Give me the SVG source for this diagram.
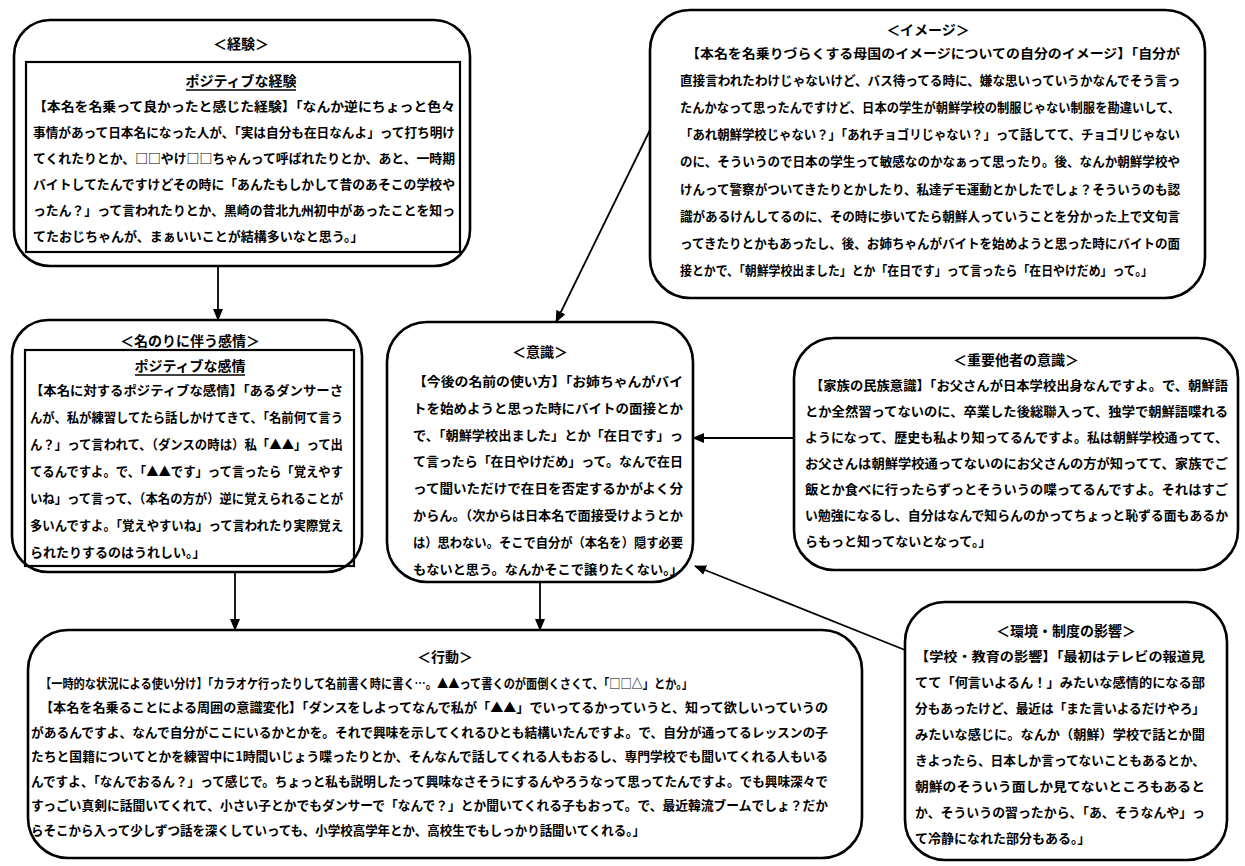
<svg xmlns="http://www.w3.org/2000/svg" width="1245" height="866" viewBox="0 0 1245 866">
<defs>
<marker id="ah" markerWidth="12" markerHeight="10" refX="11" refY="5" orient="auto" markerUnits="userSpaceOnUse"><path d="M0,0 L12,5 L0,10 Z" fill="#000"/></marker>
</defs>
<style>
.box{fill:#fff;stroke:#000;stroke-width:2.6}
.inner{fill:none;stroke:#000;stroke-width:2.2}
text{font-family:"Noto Sans CJK JP","Noto Sans CJK SC",sans-serif;font-weight:700;fill:#000}
.t{font-size:13px}
.h{font-size:14px;text-anchor:middle}
.ul{stroke:#000;stroke-width:1.3}
.conn{stroke:#000;stroke-width:1.8;fill:none}
</style>
<rect width="1245" height="866" fill="#fff"/>

<g id="node-keiken">
<rect class="box" x="14" y="20" width="456" height="246" rx="36"/>
<rect class="inner" x="26" y="62" width="434" height="190"/>
<text class="h" x="241" y="49">＜経験＞</text>
<text class="h" x="241" y="86">ポジティブな経験</text>
<line class="ul" x1="186" y1="90" x2="296" y2="90"/>
<text class="t" x="33" y="111" textLength="422" lengthAdjust="spacingAndGlyphs">【本名を名乗って良かったと感じた経験】「なんか逆にちょっと色々</text>
<text class="t" x="33" y="137" textLength="422" lengthAdjust="spacingAndGlyphs">事情があって日本名になった人が、「実は自分も在日なんよ」って打ち明け</text>
<text class="t" x="33" y="163" textLength="422" lengthAdjust="spacingAndGlyphs">てくれたりとか、□□やけ□□ちゃんって呼ばれたりとか、あと、一時期</text>
<text class="t" x="33" y="189" textLength="422" lengthAdjust="spacingAndGlyphs">バイトしてたんですけどその時に「あんたもしかして昔のあそこの学校や</text>
<text class="t" x="33" y="215" textLength="422" lengthAdjust="spacingAndGlyphs">ったん？」って言われたりとか、黒崎の昔北九州初中があったことを知っ</text>
<text class="t" x="33" y="241">てたおじちゃんが、まぁいいことが結構多いなと思う。」</text>
</g>

<g id="node-image">
<rect class="box" x="650" y="10" width="555" height="288" rx="40"/>
<text class="h" x="928" y="35">＜イメージ＞</text>
<text class="t" x="686" y="58" textLength="494" lengthAdjust="spacingAndGlyphs">【本名を名乗りづらくする母国のイメージについての自分のイメージ】「自分が</text>
<text class="t" x="680" y="85" textLength="500" lengthAdjust="spacingAndGlyphs">直接言われたわけじゃないけど、バス待ってる時に、嫌な思いっていうかなんでそう言っ</text>
<text class="t" x="680" y="112" textLength="500" lengthAdjust="spacingAndGlyphs">たんかなって思ったんですけど、日本の学生が朝鮮学校の制服じゃない制服を勘違いして、</text>
<text class="t" x="680" y="139" textLength="500" lengthAdjust="spacingAndGlyphs">「あれ朝鮮学校じゃない？」「あれチョゴリじゃない？」って話してて、チョゴリじゃない</text>
<text class="t" x="680" y="166" textLength="500" lengthAdjust="spacingAndGlyphs">のに、そういうので日本の学生って敏感なのかなぁって思ったり。後、なんか朝鮮学校や</text>
<text class="t" x="680" y="194" textLength="500" lengthAdjust="spacingAndGlyphs">けんって警察がついてきたりとかしたり、私達デモ運動とかしたでしょ？そういうのも認</text>
<text class="t" x="680" y="221" textLength="500" lengthAdjust="spacingAndGlyphs">識があるけんしてるのに、その時に歩いてたら朝鮮人っていうことを分かった上で文句言</text>
<text class="t" x="680" y="248" textLength="500" lengthAdjust="spacingAndGlyphs">ってきたりとかもあったし、後、お姉ちゃんがバイトを始めようと思った時にバイトの面</text>
<text class="t" x="680" y="275" textLength="473" lengthAdjust="spacingAndGlyphs">接とかで、「朝鮮学校出ました」とか「在日です」って言ったら「在日やけだめ」って。」</text>
</g>

<g id="node-kanjou">
<rect class="box" x="12" y="320" width="350" height="252" rx="36"/>
<rect class="inner" x="25" y="350" width="329" height="216"/>
<text class="h" x="190" y="346">＜名のりに伴う感情＞</text>
<text class="h" x="190" y="371">ポジティブな感情</text>
<line class="ul" x1="135" y1="375" x2="245" y2="375"/>
<text class="t" x="30" y="395" textLength="313" lengthAdjust="spacingAndGlyphs">【本名に対するポジティブな感情】「あるダンサーさ</text>
<text class="t" x="30" y="422" textLength="313" lengthAdjust="spacingAndGlyphs">んが、私が練習してたら話しかけてきて、「名前何て言う</text>
<text class="t" x="30" y="449" textLength="313" lengthAdjust="spacingAndGlyphs">ん？」って言われて、（ダンスの時は）私「▲▲」って出</text>
<text class="t" x="30" y="476" textLength="313" lengthAdjust="spacingAndGlyphs">てるんですよ。で、「▲▲です」って言ったら「覚えやす</text>
<text class="t" x="30" y="503" textLength="313" lengthAdjust="spacingAndGlyphs">いね」って言って、（本名の方が）逆に覚えられることが</text>
<text class="t" x="30" y="530" textLength="313" lengthAdjust="spacingAndGlyphs">多いんですよ。「覚えやすいね」って言われたり実際覚え</text>
<text class="t" x="30" y="557">られたりするのはうれしい。」</text>
</g>

<g id="node-ishiki">
<rect class="box" x="387" y="322" width="306" height="260" rx="40"/>
<text class="h" x="540" y="357">＜意識＞</text>
<text class="t" x="413" y="386" textLength="270" lengthAdjust="spacingAndGlyphs">【今後の名前の使い方】「お姉ちゃんがバイ</text>
<text class="t" x="413" y="413" textLength="270" lengthAdjust="spacingAndGlyphs">トを始めようと思った時にバイトの面接とか</text>
<text class="t" x="413" y="440" textLength="270" lengthAdjust="spacingAndGlyphs">で、「朝鮮学校出ました」とか「在日です」っ</text>
<text class="t" x="413" y="466" textLength="270" lengthAdjust="spacingAndGlyphs">て言ったら「在日やけだめ」って。なんで在日</text>
<text class="t" x="413" y="493" textLength="270" lengthAdjust="spacingAndGlyphs">って聞いただけで在日を否定するかがよく分</text>
<text class="t" x="413" y="520" textLength="270" lengthAdjust="spacingAndGlyphs">からん。（次からは日本名で面接受けようとか</text>
<text class="t" x="413" y="547" textLength="270" lengthAdjust="spacingAndGlyphs">は）思わない。そこで自分が（本名を）隠す必要</text>
<text class="t" x="413" y="574" textLength="270" lengthAdjust="spacingAndGlyphs">もないと思う。なんかそこで譲りたくない。」</text>
</g>

<g id="node-tasha">
<rect class="box" x="794" y="338" width="444" height="232" rx="40"/>
<text class="h" x="1016" y="365">＜重要他者の意識＞</text>
<text class="t" x="810" y="390" textLength="418" lengthAdjust="spacingAndGlyphs">【家族の民族意識】「お父さんが日本学校出身なんですよ。で、朝鮮語</text>
<text class="t" x="805" y="416" textLength="423" lengthAdjust="spacingAndGlyphs">とか全然習ってないのに、卒業した後総聯入って、独学で朝鮮語喋れる</text>
<text class="t" x="805" y="442" textLength="423" lengthAdjust="spacingAndGlyphs">ようになって、歴史も私より知ってるんですよ。私は朝鮮学校通ってて、</text>
<text class="t" x="805" y="468" textLength="423" lengthAdjust="spacingAndGlyphs">お父さんは朝鮮学校通ってないのにお父さんの方が知ってて、家族でご</text>
<text class="t" x="805" y="494" textLength="423" lengthAdjust="spacingAndGlyphs">飯とか食べに行ったらずっとそういうの喋ってるんですよ。それはすご</text>
<text class="t" x="805" y="520" textLength="423" lengthAdjust="spacingAndGlyphs">い勉強になるし、自分はなんで知らんのかってちょっと恥ずる面もあるか</text>
<text class="t" x="805" y="546">らもっと知ってないとなって。」</text>
</g>

<g id="node-kankyou">
<rect class="box" x="905" y="602" width="322" height="258" rx="40"/>
<text class="h" x="1066" y="636">＜環境・制度の影響＞</text>
<text class="t" x="915" y="661" textLength="290" lengthAdjust="spacingAndGlyphs">【学校・教育の影響】「最初はテレビの報道見</text>
<text class="t" x="915" y="687" textLength="290" lengthAdjust="spacingAndGlyphs">てて「何言いよるん！」みたいな感情的になる部</text>
<text class="t" x="915" y="713" textLength="290" lengthAdjust="spacingAndGlyphs">分もあったけど、最近は「また言いよるだけやろ」</text>
<text class="t" x="915" y="739" textLength="290" lengthAdjust="spacingAndGlyphs">みたいな感じに。なんか（朝鮮）学校で話とか聞</text>
<text class="t" x="915" y="765" textLength="290" lengthAdjust="spacingAndGlyphs">きよったら、日本しか言ってないこともあるとか、</text>
<text class="t" x="915" y="791" textLength="290" lengthAdjust="spacingAndGlyphs">朝鮮のそういう面しか見てないところもあると</text>
<text class="t" x="915" y="817" textLength="290" lengthAdjust="spacingAndGlyphs">か、そういうの習ったから、「あ、そうなんや」っ</text>
<text class="t" x="915" y="843">て冷静になれた部分もある。」</text>
</g>

<g id="node-koudou">
<rect class="box" x="28" y="630" width="834" height="228" rx="40"/>
<text class="h" x="445" y="662">＜行動＞</text>
<text class="t" x="40" y="688" textLength="653" lengthAdjust="spacingAndGlyphs">【一時的な状況による使い分け】「カラオケ行ったりして名前書く時に書く…。▲▲って書くのが面倒くさくて、「□□△」とか。」</text>
<text class="t" x="40" y="712" textLength="788" lengthAdjust="spacingAndGlyphs">【本名を名乗ることによる周囲の意識変化】「ダンスをしよってなんで私が「▲▲」でいってるかっていうと、知って欲しいっていうの</text>
<text class="t" x="31" y="737" textLength="797" lengthAdjust="spacingAndGlyphs">があるんですよ、なんで自分がここにいるかとかを。それで興味を示してくれるひとも結構いたんですよ。で、自分が通ってるレッスンの子</text>
<text class="t" x="31" y="761" textLength="797" lengthAdjust="spacingAndGlyphs">たちと国籍についてとかを練習中に1時間いじょう喋ったりとか、そんなんで話してくれる人もおるし、専門学校でも聞いてくれる人もいる</text>
<text class="t" x="31" y="786" textLength="797" lengthAdjust="spacingAndGlyphs">んですよ、「なんでおるん？」って感じで。ちょっと私も説明したって興味なさそうにするんやろうなって思ってたんですよ。でも興味深々で</text>
<text class="t" x="31" y="810" textLength="797" lengthAdjust="spacingAndGlyphs">すっごい真剣に話聞いてくれて、小さい子とかでもダンサーで「なんで？」とか聞いてくれる子もおって。で、最近韓流ブームでしょ？だか</text>
<text class="t" x="31" y="835" textLength="614" lengthAdjust="spacingAndGlyphs">らそこから入って少しずつ話を深くしていっても、小学校高学年とか、高校生でもしっかり話聞いてくれる。」</text>
</g>

<g id="connectors">
<path class="conn" d="M218,266 L218,320" marker-end="url(#ah)"/>
<path class="conn" d="M650,130 L556,322" marker-end="url(#ah)"/>
<path class="conn" d="M794,438 L693,438" marker-end="url(#ah)"/>
<path class="conn" d="M905,650 L695,566" marker-end="url(#ah)"/>
<path class="conn" d="M235,572 L235,630" marker-end="url(#ah)"/>
<path class="conn" d="M540,582 L540,630" marker-end="url(#ah)"/>
</g>
</svg>
